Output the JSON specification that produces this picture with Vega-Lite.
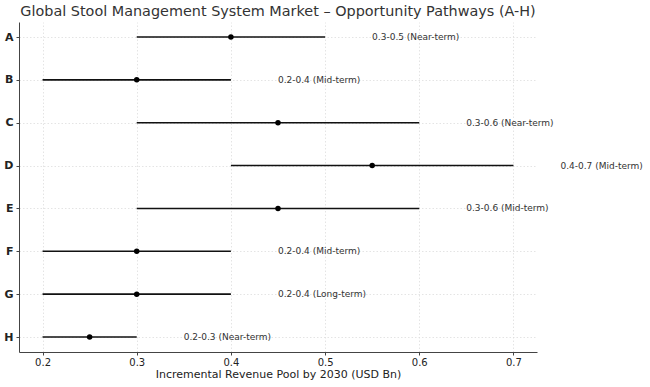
{
  "$schema": "https://vega.github.io/schema/vega-lite/v6.json",
  "autosize": {"type": "none"},
  "width": 518,
  "height": 330,
  "padding": {"left": 19, "top": 22, "right": 113, "bottom": 35},
  "background": "white",
  "title": {
    "text": "Global Stool Management System Market – Opportunity Pathways (A-H)",
    "font": "DejaVu Sans",
    "fontSize": 14.4,
    "fontWeight": "normal",
    "color": "#333333",
    "anchor": "middle",
    "frame": "group",
    "offset": 3
  },
  "data": {
    "values": [
      {"path": "A", "low": 0.3, "high": 0.5, "mid": 0.4, "label": "0.3-0.5 (Near-term)"},
      {"path": "B", "low": 0.2, "high": 0.4, "mid": 0.3, "label": "0.2-0.4 (Mid-term)"},
      {"path": "C", "low": 0.3, "high": 0.6, "mid": 0.45, "label": "0.3-0.6 (Near-term)"},
      {"path": "D", "low": 0.4, "high": 0.7, "mid": 0.55, "label": "0.4-0.7 (Mid-term)"},
      {"path": "E", "low": 0.3, "high": 0.6, "mid": 0.45, "label": "0.3-0.6 (Mid-term)"},
      {"path": "F", "low": 0.2, "high": 0.4, "mid": 0.3, "label": "0.2-0.4 (Mid-term)"},
      {"path": "G", "low": 0.2, "high": 0.4, "mid": 0.3, "label": "0.2-0.4 (Long-term)"},
      {"path": "H", "low": 0.2, "high": 0.3, "mid": 0.25, "label": "0.2-0.3 (Near-term)"}
    ]
  },
  "encoding": {
    "y": {
      "field": "path",
      "type": "nominal",
      "sort": ["A", "B", "C", "D", "E", "F", "G", "H"],
      "scale": {"type": "point", "padding": 0.35},
      "axis": {
        "title": null,
        "labelFont": "DejaVu Sans",
        "labelFontWeight": "bold",
        "labelFontSize": 11,
        "labelColor": "#222222",
        "labelPadding": 3,
        "ticks": true,
        "tickSize": 3,
        "tickColor": "#444444",
        "domainColor": "#444444",
        "domainWidth": 1,
        "grid": true,
        "gridDash": [1.5, 2],
        "gridColor": "#dddddd",
        "gridWidth": 0.8
      }
    }
  },
  "layer": [
    {
      "mark": {"type": "rule", "color": "#111111", "strokeWidth": 1.6},
      "encoding": {
        "x": {
          "field": "low",
          "type": "quantitative",
          "scale": {"domain": [0.175, 0.725], "nice": false, "zero": false},
          "axis": {
            "title": "Incremental Revenue Pool by 2030 (USD Bn)",
            "titleFont": "DejaVu Sans",
            "titleFontSize": 11,
            "titleFontWeight": "normal",
            "titleColor": "#222222",
            "titlePadding": 1,
            "values": [0.2, 0.3, 0.4, 0.5, 0.6, 0.7],
            "format": ".1f",
            "labelFont": "DejaVu Sans",
            "labelFontSize": 10,
            "labelColor": "#222222",
            "labelPadding": 2,
            "tickSize": 3,
            "tickColor": "#444444",
            "domainColor": "#444444",
            "domainWidth": 1,
            "grid": true,
            "gridDash": [1.5, 2],
            "gridColor": "#dddddd",
            "gridWidth": 0.8
          }
        },
        "x2": {"field": "high"}
      }
    },
    {
      "mark": {"type": "circle", "color": "#000000", "opacity": 1, "size": 30},
      "encoding": {
        "x": {"field": "mid", "type": "quantitative"}
      }
    },
    {
      "mark": {"type": "text", "align": "left", "baseline": "middle", "dx": 47, "font": "DejaVu Sans", "fontSize": 9, "color": "#333333", "clip": false},
      "encoding": {
        "x": {"field": "high", "type": "quantitative"},
        "text": {"field": "label"}
      }
    }
  ],
  "config": {"view": {"stroke": null}}
}
